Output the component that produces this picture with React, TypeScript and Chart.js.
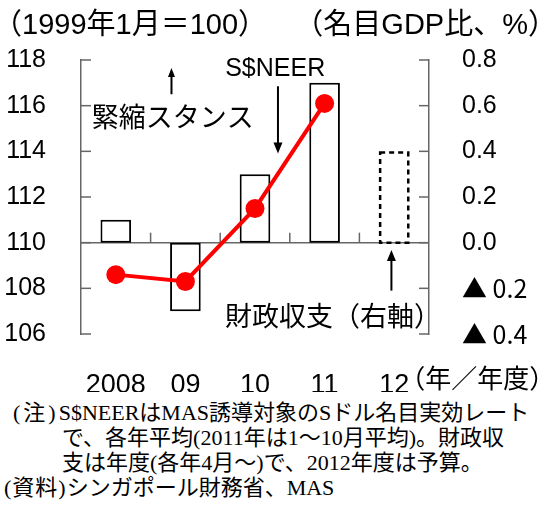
import React, { useEffect, useRef } from "react";
import { Chart, registerables } from "chart.js";

Chart.register(...registerables);

// ---- data ----
const categories = ["2008", "09", "10", "11", "12"];
const fiscalBalance = [0.1, -0.3, 0.3, 0.7, null]; // 財政収支 (右軸, 名目GDP比 %)
const fiscalBudget = [null, null, null, null, 0.4]; // 2012年度 予算 (dashed)
const sneer = [108.6, 108.3, 111.5, 116.1, null]; // S$NEER (1999年1月=100)
const leftTicks = [106, 108, 110, 112, 114, 116, 118];
const rightTicks = [-0.4, -0.2, 0, 0.2, 0.4, 0.6, 0.8];
const leftTitle = "（1999年1月＝100）";
const rightTitle = "（名目GDP比、%）";
const xUnit = "（年／年度）";
const labelSneer = "S$NEER";
const labelStance = "緊縮スタンス";
const labelFiscal = "財政収支（右軸）";
const notePrefixes = ["(注)", "", "", "(資料)"];
const notes = [
  "S$NEERはMAS誘導対象のSドル名目実効レート",
  "で、各年平均(2011年は1～10月平均)。財政収",
  "支は年度(各年4月～)で、2012年度は予算。",
  "シンガポール財務省、MAS",
];

const FONT_NUM = "'Liberation Sans', Arial, 'Noto Sans CJK JP', sans-serif";
const FONT_JP = "'Noto Sans CJK JP', 'Liberation Sans', sans-serif";
const AXIS_GRAY = "#666666";

function drawArrow(ctx: CanvasRenderingContext2D, x: number, yFrom: number, yTo: number, head: number, hw: number) {
  const dir = yTo > yFrom ? 1 : -1;
  ctx.save();
  ctx.strokeStyle = "#000";
  ctx.fillStyle = "#000";
  ctx.lineWidth = 2;
  ctx.beginPath();
  ctx.moveTo(x, yFrom);
  ctx.lineTo(x, yTo - dir * head * 0.6);
  ctx.stroke();
  ctx.beginPath();
  ctx.moveTo(x, yTo);
  ctx.lineTo(x - hw / 2, yTo - dir * head);
  ctx.lineTo(x + hw / 2, yTo - dir * head);
  ctx.closePath();
  ctx.fill();
  ctx.restore();
}

function textInkLeft(ctx: CanvasRenderingContext2D, s: string, inkLeft: number, y: number) {
  ctx.textAlign = "left";
  const m = ctx.measureText(s);
  ctx.fillText(s, inkLeft + m.actualBoundingBoxLeft, y);
}
function textInkRight(ctx: CanvasRenderingContext2D, s: string, inkRight: number, y: number) {
  ctx.textAlign = "left";
  const m = ctx.measureText(s);
  ctx.fillText(s, inkRight - m.actualBoundingBoxRight, y);
}

const decorPlugin = {
  id: "decor",
  beforeDatasetsDraw(chart: any) {
    const { ctx, chartArea, scales } = chart;
    const x = scales.x, y = scales.y, y1 = scales.y1;
    ctx.save();
    ctx.strokeStyle = AXIS_GRAY;
    ctx.lineWidth = 1.5;
    const zy = y1.getPixelForValue(0);
    ctx.beginPath();
    ctx.moveTo(chartArea.left, zy);
    ctx.lineTo(chartArea.right, zy);
    ctx.stroke();
    for (let i = 1; i < categories.length; i++) {
      const bx = (x.getPixelForValue(i - 1) + x.getPixelForValue(i)) / 2;
      ctx.beginPath();
      ctx.moveTo(bx, zy);
      ctx.lineTo(bx, zy - 10);
      ctx.stroke();
    }
    y.ticks.forEach((t: any) => {
      const p = y.getPixelForValue(t.value);
      ctx.beginPath();
      ctx.moveTo(chartArea.left, p);
      ctx.lineTo(chartArea.left + 10, p);
      ctx.stroke();
    });
    y1.ticks.forEach((t: any) => {
      const p = y1.getPixelForValue(t.value);
      ctx.beginPath();
      ctx.moveTo(chartArea.right - 10, p);
      ctx.lineTo(chartArea.right, p);
      ctx.stroke();
    });
    ctx.restore();
  },
  afterDatasetsDraw(chart: any) {
    const { ctx } = chart;
    const meta = chart.getDatasetMeta(1);
    meta.data.forEach((el: any, i: number) => {
      if (fiscalBudget[i] == null) return;
      const { x: cx, y: top, base, width } = el.getProps(["x", "y", "base", "width"], true);
      ctx.save();
      ctx.strokeStyle = "#000";
      ctx.lineWidth = 2.5;
      ctx.setLineDash([5, 4]);
      ctx.strokeRect(cx - width / 2 + 1.25, top + 1.25, width - 2.5, base - top - 1.25);
      ctx.restore();
    });
  },
  afterDraw(chart: any) {
    const { ctx, scales } = chart;
    const x = scales.x, y = scales.y;
    const px = (i: number) => x.getPixelForValue(i);
    const py = (v: number) => y.getPixelForValue(v);
    ctx.save();
    ctx.fillStyle = "#000";
    ctx.textBaseline = "middle";
    // axis titles
    ctx.font = `29px ${FONT_NUM}`;
    textInkLeft(ctx, leftTitle, 13, 26);
    textInkRight(ctx, rightTitle, 537, 26);
    // x unit after last tick label
    ctx.font = `27px ${FONT_NUM}`;
    const lastW = ctx.measureText(categories[categories.length - 1]).width;
    ctx.font = `26px ${FONT_JP}`;
    textInkLeft(ctx, xUnit, px(categories.length - 1) + lastW / 2 + 8, 378);
    // annotations
    ctx.font = `25px ${FONT_NUM}`;
    ctx.textAlign = "center";
    ctx.fillText(labelSneer, px(2.29), py(117.6));
    drawArrow(ctx, px(2.33), py(116.85), py(113.9), 11, 9);
    ctx.font = `27px ${FONT_JP}`;
    textInkLeft(ctx, labelStance, px(-0.33), py(115.5));
    drawArrow(ctx, px(0.8), py(116.5), py(117.65), 9, 7);
    ctx.font = `27px ${FONT_JP}`;
    textInkLeft(ctx, labelFiscal, px(1.57), py(106.8));
    drawArrow(ctx, px(3.96), py(107.9), py(109.68), 11, 9);
    ctx.restore();
  },
};

export default function App() {
  const ref = useRef<HTMLCanvasElement | null>(null);
  useEffect(() => {
    if (!ref.current) return;
    const chart = new Chart(ref.current, {
      type: "bar",
      data: {
        labels: categories,
        datasets: [
          {
            type: "line",
            label: "S$NEER",
            data: sneer,
            yAxisID: "y",
            borderColor: "#ff0000",
            backgroundColor: "#ff0000",
            borderWidth: 4,
            pointRadius: 9.5,
            pointBackgroundColor: "#ff0000",
            pointBorderColor: "#ff0000",
            pointBorderWidth: 0,
            order: 0,
          } as any,
          {
            type: "bar",
            label: "予算",
            data: fiscalBudget,
            yAxisID: "y1",
            backgroundColor: "rgba(0,0,0,0)",
            borderWidth: 0,
            grouped: false,
            barPercentage: 0.44,
            categoryPercentage: 1,
            order: 1,
          } as any,
          {
            type: "bar",
            label: "財政収支",
            data: fiscalBalance,
            yAxisID: "y1",
            backgroundColor: "#ffffff",
            borderColor: "#000000",
            borderWidth: 2,
            borderSkipped: false,
            grouped: false,
            barPercentage: 0.44,
            categoryPercentage: 1,
            order: 2,
          } as any,
        ],
      },
      options: {
        animation: false,
        responsive: false,
        devicePixelRatio: 1,
        layout: { padding: { top: 60, left: 0, right: 0, bottom: 0 } },
        plugins: { legend: { display: false }, tooltip: { enabled: false } },
        scales: {
          x: {
            position: "bottom",
            grid: { display: false },
            border: { display: false },
            ticks: { color: "#000", font: { size: 27, family: FONT_NUM }, padding: 27, maxRotation: 0, autoSkip: false },
            afterFit: (s: any) => { s.height = 58; },
          },
          y: {
            position: "left",
            min: 106,
            max: 118,
            grid: { display: false },
            border: { display: true, color: AXIS_GRAY, width: 1.5 },
            afterBuildTicks: (s: any) => { s.ticks = leftTicks.map((v) => ({ value: v })); },
            ticks: { color: "#000", font: { size: 25, family: FONT_NUM }, padding: 27 },
            afterFit: (s: any) => { s.width = 81; },
          },
          y1: {
            position: "right",
            min: -0.4,
            max: 0.8,
            grid: { display: false },
            border: { display: true, color: AXIS_GRAY, width: 1.5 },
            afterBuildTicks: (s: any) => { s.ticks = rightTicks.map((v) => ({ value: v })); },
            ticks: {
              color: "#000",
              font: (c: any) =>
                c.tick && c.tick.value < 0
                  ? { size: 25, family: FONT_JP }
                  : { size: 25, family: FONT_NUM },
              padding: 25,
              callback: (v: any) => {
                const n = Math.round(Number(v) * 10) / 10;
                return n < 0 ? `▲ ${Math.abs(n).toFixed(1)}` : n.toFixed(1);
              },
            },
            afterFit: (s: any) => { s.width = 111; },
          },
        },
      } as any,
      plugins: [decorPlugin],
    });
    return () => chart.destroy();
  }, []);

  const noteCenters = [413, 438, 463, 488];
  const noteLefts = [13, 62, 62, 4];
  const prefixStyle = [{ letterSpacing: "3px" }, {}, {}, { letterSpacing: "1px" }];
  return (
    <div style={{ position: "fixed", left: 0, top: 0, width: 540, height: 517, background: "#fff", overflow: "hidden" }}>
      <canvas ref={ref} width={540} height={392} style={{ display: "block", width: 540, height: 392 }} />
      {notes.map((t, i) => (
        <div
          key={i}
          style={{
            position: "absolute",
            left: noteLefts[i],
            top: noteCenters[i] - 13,
            height: 26,
            lineHeight: "26px",
            fontSize: 22,
            fontFamily: "'Liberation Serif', 'Noto Sans CJK JP', serif",
            whiteSpace: "nowrap",
            color: "#000",
          }}
        >
          {notePrefixes[i] ? <span style={prefixStyle[i] as any}>{notePrefixes[i]}</span> : null}
          {t}
        </div>
      ))}
    </div>
  );
}
